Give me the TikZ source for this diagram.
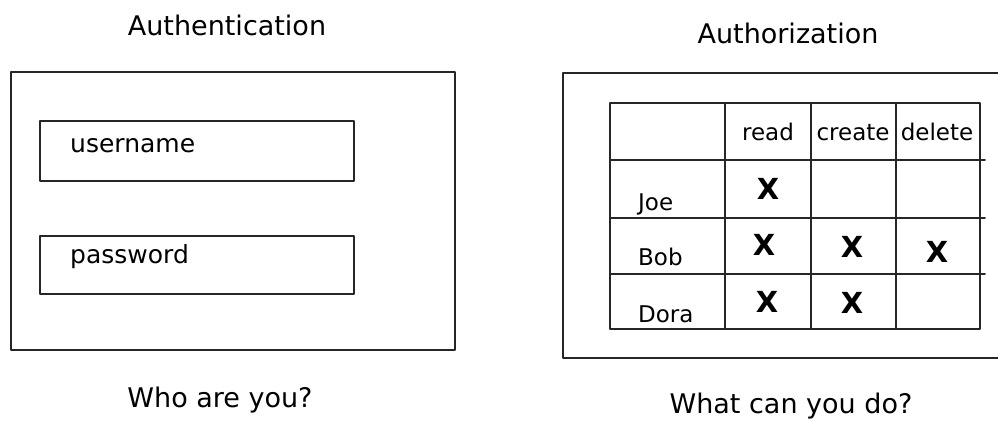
\documentclass[tikz,border=0pt]{standalone}
\usepackage{fontspec}
\setmainfont{DejaVu Sans}
\begin{document}
\begin{tikzpicture}[x=1pt,y=-1pt,
  sketch/.style={draw=black!85, line width=1.9pt, line join=round, line cap=round},
  title/.style={font=\fontsize{27}{30}\selectfont, anchor=base, inner sep=0pt},
  field/.style={font=\fontsize{25}{28}\selectfont, anchor=base west, inner sep=0pt},
  head/.style={font=\fontsize{23}{26}\selectfont, anchor=base, inner sep=0pt},
  who/.style={font=\fontsize{23}{26}\selectfont, anchor=base west, inner sep=0pt},
  crossmark/.style={font=\bfseries\fontsize{29}{32}\selectfont, anchor=center, inner sep=0pt}]
\useasboundingbox[fill=white] (0,0) rectangle (998,423);

% Authentication
\node[title] (t1) at (227,35) {Authentication};
\draw[sketch] (11,72) rectangle (455,350);
\draw[sketch] (40,121) rectangle (354,181);
\draw[sketch] (40,236) rectangle (354,294);
\node[field] (user) at (70,152) {username};
\node[field] (pass) at (70,263) {password};
\node[title] (q1) at (220,407) {Who are you?};

% Authorization
\node[title] (t2) at (788,43) {Authorization};
\draw[sketch] (563,73) -- (1010,73);
\draw[sketch] (563,73) -- (563,358) -- (1010,358);

% table
\draw[sketch] (610,103) rectangle (980,329);
\foreach \yy in {160,218,274} \draw[sketch] (610,\yy) -- (985,\yy);
\foreach \xx in {725,811,896} \draw[sketch] (\xx,103) -- (\xx,329);

\node[head] (read) at (768,140) {read};
\node[head] (create) at (853,140) {create};
\node[head] (delete) at (937,140) {delete};
\node[who] (joe) at (638,210) {Joe};
\node[who] (bob) at (638,265) {Bob};
\node[who] (dora) at (638,322) {Dora};

\node[crossmark] (m1) at (768,189) {X};
\node[crossmark] (m2) at (764,245) {X};
\node[crossmark] (m3) at (852,247) {X};
\node[crossmark] (m4) at (937,252) {X};
\node[crossmark] (m5) at (767,302) {X};
\node[crossmark] (m6) at (852,303) {X};

\node[title] (q2) at (791,413) {What can you do?};
\end{tikzpicture}
\end{document}
